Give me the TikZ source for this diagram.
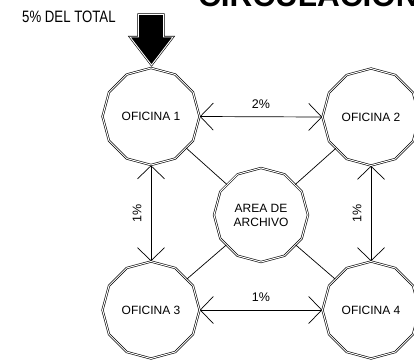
\documentclass[tikz,border=0pt]{standalone}
\usepackage{fontspec}
\setmainfont{Liberation Sans}
\newfontfamily\narrowfont[FakeStretch=0.8]{Liberation Sans}
\usetikzlibrary{shapes.geometric,arrows.meta}
\tikzset{
  office/.style={draw, regular polygon, regular polygon sides=12, shape border rotate=15,
    minimum size=97pt, inner sep=0pt, line width=0.6pt, double=white, double distance=1pt,
    font=\fontsize{12}{14}\selectfont, align=center},
  flow/.style={line width=0.7pt, {Straight Barb[length=13pt,width=27pt,line width=0.7pt]}-{Straight Barb[length=13pt,width=27pt,line width=0.7pt]}},
  link/.style={line width=0.7pt},
  pct/.style={font=\fontsize{12.5}{14}\selectfont, inner sep=0pt},
}
\begin{document}
\begin{tikzpicture}[x=1pt,y=-1pt]
\useasboundingbox (0,0) rectangle (414,360);
\clip (0,0) rectangle (414,360);
% title (cut at the top)
\node[anchor=base west, inner sep=0pt, font=\fontsize{31.5}{33}\selectfont\bfseries] (title) at (198,6) {CIRCULACIONES};
\node[anchor=base west, inner sep=0pt, font=\fontsize{16.5}{18}\selectfont\narrowfont] (total) at (22,22.5) {5\% DEL TOTAL};
% nodes
\node[office] (o1) at (151,116.5) {OFICINA 1};
\node[office] (o2) at (371,117) {OFICINA 2};
\node[office] (o3) at (151,310) {OFICINA 3};
\node[office] (o4) at (371,310) {OFICINA 4};
\node[office, minimum size=94pt] (area) at (261,215) {AREA DE\\ARCHIVO};
% diagonal links
\draw[link] (o1) -- (area);
\draw[link] (o2) -- (area);
\draw[link] (o3) -- (area);
\draw[link] (o4) -- (area);
% flows
\draw[flow] (o1.east) -- node[pct, midway, yshift=13pt] (p12) {2\%} (o2.west);
\draw[flow] (o3.east) -- node[pct, midway, yshift=13pt] (p34) {1\%} (o4.west);
\draw[flow] (o1.south) -- node[pct, midway, xshift=-14pt, rotate=90] (p13) {1\%} (o3.north);
\draw[flow] (o2.south) -- node[pct, midway, xshift=-14pt, rotate=90] (p24) {1\%} (o4.north);
% big input arrow
\filldraw[fill=black, draw=black, line width=0.6pt, double=white, double distance=0.9pt]
  (138.5,14.5) -- (163.5,14.5) -- (163.5,37) -- (173,37) -- (151.5,65) -- (130,37) -- (138.5,37) -- cycle;
\end{tikzpicture}
\end{document}
